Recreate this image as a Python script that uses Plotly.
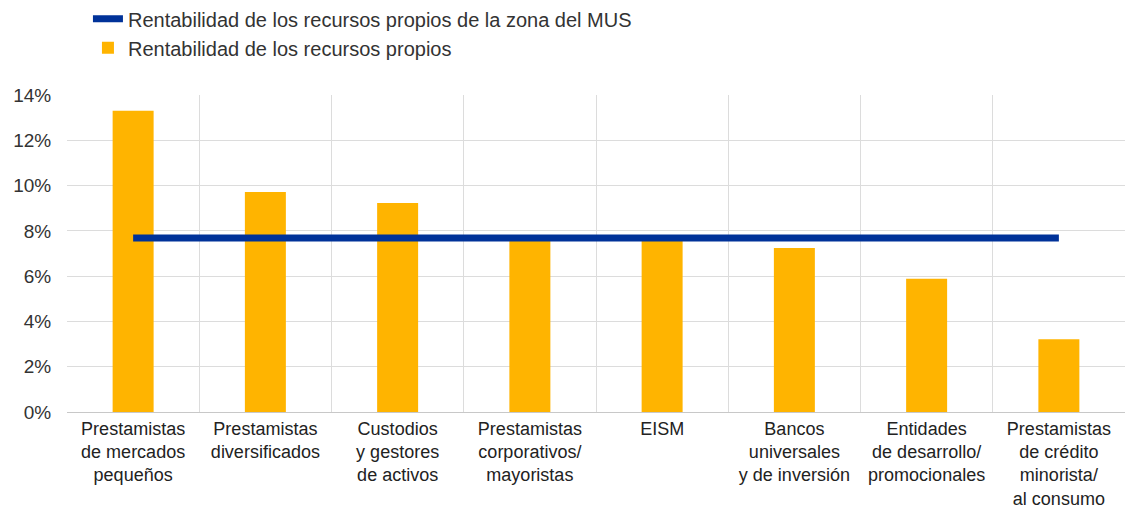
import plotly.graph_objects as go

categories = [
    "Prestamistas<br>de mercados<br>pequeños",
    "Prestamistas<br>diversificados",
    "Custodios<br>y gestores<br>de activos",
    "Prestamistas<br>corporativos/<br>mayoristas",
    "EISM",
    "Bancos<br>universales<br>y de inversión",
    "Entidades<br>de desarrollo/<br>promocionales",
    "Prestamistas<br>de crédito<br>minorista/<br>al consumo",
]
roe_values = [13.3, 9.72, 9.23, 7.6, 7.6, 7.24, 5.89, 3.21]
mus_roe = [7.68] * len(categories)

y_ticks = [0, 2, 4, 6, 8, 10, 12, 14]
y_ticklabels = [f"{v}%" for v in y_ticks]

BLUE = "#003299"
YELLOW = "#FFB400"
TEXT = "#333333"
GRID = "#dcdcdc"

fig = go.Figure()
fig.add_trace(go.Scatter(
    x=categories, y=mus_roe, mode="lines",
    name="Rentabilidad de los recursos propios de la zona del MUS",
    line=dict(color=BLUE, width=7),
))
fig.add_trace(go.Bar(
    x=categories, y=roe_values,
    name="Rentabilidad de los recursos propios",
    marker=dict(color=YELLOW, line=dict(width=0)),
))

# page body has an 8px default margin, so the figure is sized to fit the window
fig.update_layout(
    width=1126, height=500,
    margin=dict(l=59, r=9, t=87, b=96, autoexpand=False),
    paper_bgcolor="white", plot_bgcolor="white",
    font=dict(family="Liberation Sans, Arial, sans-serif", color=TEXT, size=19),
    bargap=0.69,
    showlegend=True,
    legend=dict(
        x=0.0198, y=1.302, xref="paper", yref="paper",
        xanchor="left", yanchor="top",
        font=dict(size=20, color=TEXT),
        bgcolor="rgba(0,0,0,0)", traceorder="normal",
        tracegroupgap=0, itemwidth=30,
    ),
)
fig.update_xaxes(
    type="category", tickson="boundaries", automargin=False, tickangle=0,
    showgrid=True, gridcolor=GRID, gridwidth=1,
    showline=True, linecolor="#c8c8c8", linewidth=1,
    ticks="outside", ticklen=8, tickcolor="rgba(0,0,0,0)",
    tickfont=dict(size=18, color="#222222"),
    mirror=False,
)
fig.update_yaxes(
    range=[0, 14], tickvals=y_ticks, ticktext=y_ticklabels, automargin=False,
    showgrid=True, gridcolor=GRID, gridwidth=1,
    zeroline=False, showline=False,
    ticks="outside", ticklen=11, tickcolor="rgba(0,0,0,0)",
    tickfont=dict(size=19, color=TEXT),
)

fig.write_html("out.html")
